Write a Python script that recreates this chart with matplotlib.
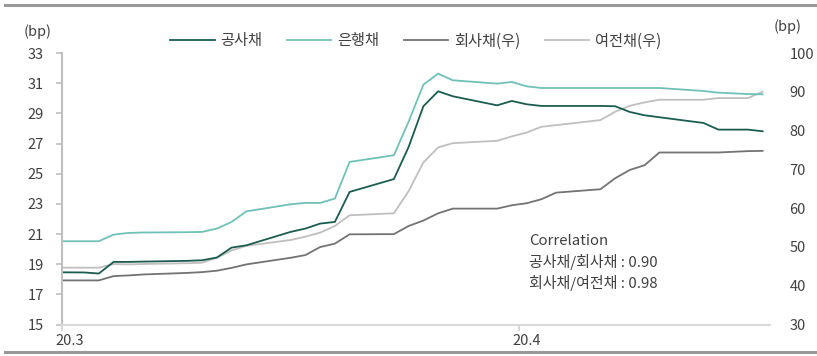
import numpy as np
import pandas as pd
import matplotlib
matplotlib.use("Agg")
import matplotlib.pyplot as plt
from matplotlib.lines import Line2D

plt.rcParams['font.family'] = ['Noto Sans CJK KR', 'DejaVu Sans']

# business days, Apr 15 (election day) closed
dates = [
    "2020-02-28", "2020-03-02", "2020-03-03", "2020-03-04", "2020-03-05", "2020-03-06",
    "2020-03-09", "2020-03-10", "2020-03-11", "2020-03-12", "2020-03-13",
    "2020-03-16", "2020-03-17", "2020-03-18", "2020-03-19", "2020-03-20",
    "2020-03-23", "2020-03-24", "2020-03-25", "2020-03-26", "2020-03-27",
    "2020-03-30", "2020-03-31", "2020-04-01", "2020-04-02", "2020-04-03",
    "2020-04-06", "2020-04-07", "2020-04-08", "2020-04-09", "2020-04-10",
    "2020-04-13", "2020-04-14", "2020-04-16", "2020-04-17",
]

# left axis (bp)
gongsa = [18.47, 18.45, 18.38, 19.15, 19.15, 19.17,
          19.22, 19.26, 19.44, 20.10, 20.25,
          21.14, 21.36, 21.69, 21.80, 23.79,
          24.64, 26.77, 29.47, 30.46, 30.13,
          29.53, 29.82, 29.60, 29.49, 29.49,
          29.49, 29.47, 29.09, 28.87, 28.74,
          28.36, 27.92, 27.92, 27.81]
eunhaeng = [20.52, 20.52, 20.52, 20.96, 21.07, 21.10,
            21.12, 21.14, 21.36, 21.80, 22.50,
            22.97, 23.06, 23.06, 23.35, 25.78,
            26.22, 28.45, 30.90, 31.63, 31.19,
            30.97, 31.08, 30.79, 30.68, 30.68,
            30.68, 30.68, 30.68, 30.68, 30.68,
            30.48, 30.37, 30.28, 30.26]

# right axis (bp)
hoesa = [41.37, 41.37, 41.37, 42.48, 42.65, 42.90,
         43.30, 43.51, 43.87, 44.60, 45.50,
         47.20, 47.90, 49.97, 50.85, 53.25,
         53.30, 55.40, 56.80, 58.67, 59.88,
         59.88, 60.74, 61.26, 62.30, 64.00,
         64.87, 67.70, 69.86, 71.07, 74.35,
         74.35, 74.35, 74.70, 74.77]
yeojeon = [44.65, 44.65, 44.65, 45.58, 45.50, 45.60,
           45.80, 45.94, 47.20, 49.10, 50.30,
           51.78, 52.65, 53.68, 55.40, 58.16,
           58.67, 64.40, 71.77, 75.65, 76.76,
           77.36, 78.50, 79.50, 80.97, 81.40,
           82.70, 84.85, 86.40, 87.27, 87.95,
           87.95, 88.38, 88.38, 90.00]

x = (pd.to_datetime(dates) - pd.Timestamp("2020-03-01")).days.values + 0.5

C_GONG = "#1b5c51"
C_EUN = "#6fc1b7"
C_HOE = "#737373"
C_YEO = "#bfbfbf"
TXT = "#404040"

fig = plt.figure(figsize=(8.17, 3.56), dpi=100)
ax = fig.add_axes([62/817, 1 - 324.5/356, (770-62)/817, (324.5-53)/356])
ax2 = ax.twinx()

l1, = ax.plot(x, gongsa, color=C_GONG, lw=1.3, label="공사채")
l2, = ax.plot(x, eunhaeng, color=C_EUN, lw=1.3, label="은행채")
l3, = ax2.plot(x, hoesa, color=C_HOE, lw=1.3, label="회사채(우)")
l4, = ax2.plot(x, yeojeon, color=C_YEO, lw=1.3, label="여전채(우)")
ax.set_zorder(ax2.get_zorder() + 1)
ax.patch.set_visible(False)

ax.set_xlim(0, 48)
ax.set_ylim(15, 33)
ax2.set_ylim(30, 100)
ax.set_yticks(np.arange(15, 34, 2))
ax2.set_yticks(np.arange(30, 101, 10))

# month ticks at boundaries, labels centred on the first day
ax.set_xticks([0, 31])
ax.set_xticklabels(["", ""])
ax.set_xticks([0.5, 31.5], minor=True)
ax.set_xticklabels(["20.3", "20.4"], minor=True)
ax.tick_params(axis="x", which="major", length=4, color="#d0d0d0", width=1.2)
ax.tick_params(axis="x", which="minor", length=0, pad=7, labelsize=10.5, labelcolor=TXT)
ax.tick_params(axis="y", length=4, color="#bfbfbf", width=1.2, pad=9, labelsize=10.5, labelcolor=TXT)
ax2.tick_params(axis="y", length=0, pad=14, labelsize=10.5, labelcolor=TXT)

for a in (ax, ax2):
    for s in ("top", "right", "left", "bottom"):
        a.spines[s].set_visible(False)
ax.spines["left"].set_visible(True)
ax.spines["left"].set_color("#bfbfbf")
ax.spines["left"].set_linewidth(1.5)
ax.spines["bottom"].set_visible(True)
ax.spines["bottom"].set_color("#d9d9d9")
ax.spines["bottom"].set_linewidth(1.5)

fig.text(37.5/817, 1 - 32/356, "(bp)", ha="center", va="center", fontsize=10.5, color=TXT)
fig.text(788/817, 1 - 27/356, "(bp)", ha="center", va="center", fontsize=10.5, color=TXT)

fig.legend(handles=[l1, l2, l3, l4], loc="center", bbox_to_anchor=(416/817, 1 - 41/356),
           ncol=4, frameon=False, fontsize=11, handlelength=2.9, handletextpad=0.4,
           columnspacing=1.6, labelcolor=TXT)

corr_lines = ["Correlation", "공사채/회사채 : 0.90", "회사채/여전채 : 0.98"]
for i, s in enumerate(corr_lines):
    fig.text(529/817, 1 - (240.7 + 21*i)/356, s, ha="left", va="center", fontsize=10.8, color=TXT)

# top and bottom rules
fig.add_artist(Line2D([5/817, 1], [1 - 5/356, 1 - 5/356], color="#999999", lw=2.2))
fig.add_artist(Line2D([5/817, 1], [1 - 352/356, 1 - 352/356], color="#999999", lw=2.2))

fig.savefig("out.png", dpi=100)
